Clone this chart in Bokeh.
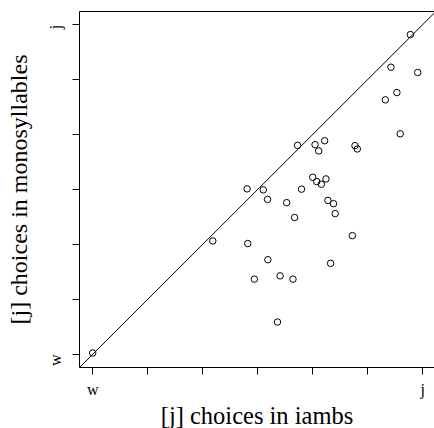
import math
from bokeh.plotting import figure
from bokeh.models import Range1d, FixedTicker, LinearAxis, Slope, Title
from bokeh.embed import file_html
from bokeh.resources import INLINE

# [j] choice proportion in iambs (x) vs. in monosyllables (y)
iambs = [0.963, 0.904, 0.985, 0.922, 0.887, 0.932, 0.621, 0.674, 0.703, 0.685,
         0.795, 0.802, 0.667, 0.679, 0.693, 0.707, 0.468, 0.517, 0.633, 0.530,
         0.588, 0.713, 0.730, 0.735, 0.612, 0.787, 0.364, 0.470, 0.531, 0.721,
         0.490, 0.568, 0.607, 0.560, 0.000]
mono = [0.970, 0.871, 0.855, 0.794, 0.772, 0.669, 0.634, 0.636, 0.648, 0.617,
        0.633, 0.623, 0.537, 0.524, 0.516, 0.532, 0.502, 0.499, 0.501, 0.470,
        0.460, 0.467, 0.457, 0.427, 0.415, 0.360, 0.344, 0.336, 0.287, 0.276,
        0.228, 0.238, 0.228, 0.098, 0.004]

major_ticks = [0, 1]
minor_ticks = [1/6, 2/6, 3/6, 4/6, 5/6]
tick_labels = {0: "w", 1: "j"}
x_title = "[j] choices in iambs"
y_title = "[j] choices in monosyllables"

FONT = "Liberation Serif"

p = figure(width=434, height=428, output_backend="svg", toolbar_location=None,
           x_range=Range1d(-0.04, 1.036), y_range=Range1d(-0.04, 1.04),
           min_border_left=79, min_border_right=0, min_border_top=11,
           min_border_bottom=61,
           y_axis_label=y_title)
p.grid.visible = False
p.outline_line_color = None
p.background_fill_color = "white"
p.border_fill_color = "white"

for ax in (p.xaxis[0], p.yaxis[0]):
    ax.ticker = FixedTicker(ticks=major_ticks, minor_ticks=minor_ticks)
    ax.major_label_overrides = tick_labels
    ax.major_tick_out = 7
    ax.major_tick_in = 0
    ax.minor_tick_out = 7
    ax.minor_tick_in = 0
    ax.major_tick_line_color = "black"
    ax.minor_tick_line_color = "black"
    ax.axis_line_color = "black"
    ax.axis_line_width = 1
    ax.major_label_text_font = FONT
    ax.major_label_text_font_size = "16px"
    ax.major_label_text_color = "black"
    ax.axis_label_text_font = FONT
    ax.axis_label_text_font_size = "24px"
    ax.axis_label_text_font_style = "normal"
    ax.axis_label_text_color = "black"

p.xaxis[0].major_label_standoff = 6
p.yaxis[0].major_label_standoff = 17
p.yaxis[0].axis_label_standoff = 4
p.yaxis[0].major_label_orientation = math.pi / 2

top = LinearAxis(ticker=FixedTicker(ticks=[]), major_tick_out=0, major_tick_in=0,
                 minor_tick_out=0, minor_tick_in=0, major_label_standoff=0,
                 major_label_text_font_size="0px", axis_line_color="black")
p.add_layout(top, "above")

# x-axis title, set below the tick labels
p.add_layout(Title(text=x_title, align="center", text_font=FONT,
                   text_font_size="24.5px", text_font_style="normal",
                   text_color="black", standoff=-1, offset=0), "below")

p.add_layout(Slope(gradient=1, y_intercept=0, line_color="black", line_width=1))

p.scatter(iambs, mono, marker="circle", size=6.5, fill_color=None,
          line_color="black", line_width=1)

open("out.html", "w").write(file_html(p, INLINE))
